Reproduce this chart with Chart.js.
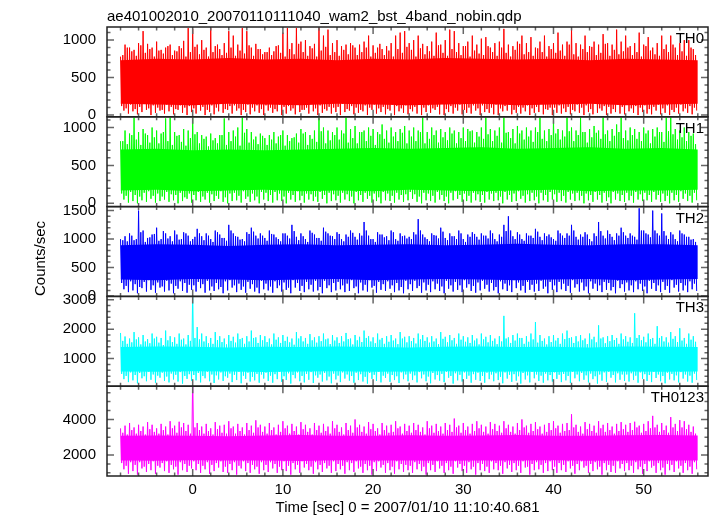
<!DOCTYPE html>
<html lang="en">
<head>
<meta charset="UTF-8">
<title>ae401002010 wam2 bst 4band light curve</title>
<script src="https://cdn.jsdelivr.net/npm/chart.js"></script>
<style>
  body { margin: 0; background: #fff; }
  #lc { display: block; }
</style>
</head>
<body>
<canvas id="lc" width="717" height="516"></canvas>
<script>
// time binning of the values (seconds)
const T0 = -8;
const BIN = 0.5;        // spike / dip bins
const CORE_STEP = 4;    // dense core band bins

const bands = ['TH0', 'TH1', 'TH2', 'TH3', 'TH0123'];
const colors = ['#ff0000', '#00ff00', '#0000ff', '#00ffff', '#ff00ff'];

// per 0.5 s bin: highest spike (hi), deepest dip (lo),
// and the secondary peak / dip (hi2, lo2)
const th0Hi = [
  780, 940, 900, 870, 960, 1120, 950, 900, 980, 870, 900, 940, 860, 920, 990, 1160,
  1150, 940, 1000, 900, 1160, 920, 880, 960, 1120, 1060, 940, 1160, 1120, 900, 950, 880,
  840, 900, 850, 930, 1100, 1160, 960, 1160, 980, 1000, 920, 950, 1160, 1060, 1140, 960,
  1000, 920, 940, 960, 900, 940, 980, 1060, 930, 900, 880, 920, 960, 1060, 1100, 1120,
  960, 1000, 1060, 950, 920, 980, 1100, 940, 1000, 1140, 1120, 960, 920, 980, 1060, 940,
  1020, 1040, 900, 960, 980, 1150, 940, 920, 980, 1060, 960, 1040, 900, 980, 1060, 920,
  960, 1100, 940, 980, 1170, 960, 940, 1060, 920, 980, 940, 1080, 960, 940, 1140, 980,
  1060, 920, 960, 1100, 940, 1040, 900, 960, 1060, 940, 1060, 900, 960, 1000, 1000, 880
];
const th0Lo = [
  60, 20, 50, 10, 40, 70, 0, 30, 60, 20, 50, 10, 70, 30, 0, 40,
  20, 60, 0, 40, 10, 50, 30, 70, 20, 60, 0, 40, 10, 50, 30, 0,
  60, 30, 50, 0, 20, 60, 10, 40, 70, 20, 50, 0, 30, 60, 20, 40,
  0, 40, 60, 10, 30, 50, 0, 70, 20, 40, 10, 60, 0, 50, 30, 10,
  50, 20, 0, 40, 30, 70, 10, 0, 40, 20, 60, 10, 30, 20, 60, 0,
  40, 30, 10, 0, 50, 60, 10, 30, 20, 50, 0, 30, 40, 10, 70, 0,
  30, 20, 40, 10, 50, 30, 0, 40, 10, 30, 60, 0, 20, 40, 20, 10,
  50, 30, 0, 40, 20, 10, 60, 10, 30, 0, 40, 20, 50, 30, 10, 60
];
const th0Hi2 = [
  800, 900, 850, 790, 930, 830, 880, 780, 860, 820, 920, 800, 850, 890, 780, 840,
  910, 810, 870, 780, 840, 940, 800, 830, 900, 790, 860, 820, 930, 790, 880, 810,
  840, 800, 920, 830, 780, 880, 810, 950, 840, 790, 890, 780, 860, 910, 800, 840,
  790, 870, 810, 930, 800, 840, 900, 780, 830, 950, 800, 860, 780, 880, 830, 910,
  870, 780, 890, 810, 850, 790, 930, 830, 790, 880, 840, 800, 920, 780, 860, 820,
  800, 920, 840, 790, 900, 830, 780, 870, 950, 810, 840, 790, 890, 840, 780, 880,
  830, 860, 790, 940, 810, 780, 880, 840, 910, 800, 830, 950, 790, 870, 810, 850,
  900, 800, 840, 780, 920, 860, 810, 790, 880, 840, 940, 800, 850, 790, 900, 800
];
const th0Lo2 = [
  120, 90, 140, 80, 110, 150, 90, 130, 100, 70, 140, 110, 80, 130, 100, 120,
  90, 140, 110, 70, 130, 100, 150, 80, 120, 130, 90, 70, 140, 100, 130, 80,
  130, 100, 80, 140, 110, 120, 90, 140, 70, 100, 150, 90, 130, 80, 110, 100,
  110, 150, 80, 120, 100, 70, 130, 100, 140, 90, 110, 80, 140, 120, 90, 130,
  80, 110, 140, 100, 130, 90, 110, 150, 80, 120, 100, 140, 70, 100, 130, 90,
  130, 80, 100, 140, 90, 120, 140, 70, 110, 100, 130, 90, 110, 150, 80, 100,
  100, 130, 90, 110, 70, 140, 100, 130, 80, 150, 90, 120, 110, 80, 140, 110,
  140, 90, 120, 100, 130, 80, 110, 140, 90, 130, 70, 100, 140, 90, 120, 100
];
const th1Hi = [
  820, 960, 920, 1130, 940, 980, 900, 1000, 960, 920, 1120, 1130, 940, 900, 980, 960,
  1130, 940, 900, 880, 920, 860, 900, 1120, 940, 960, 1000, 1130, 980, 940, 880, 920,
  860, 900, 940, 880, 960, 900, 860, 920, 980, 940, 900, 960, 1130, 1000, 960, 940,
  1000, 960, 1130, 980, 1020, 940, 960, 1000, 980, 940, 1040, 960, 1000, 940, 980, 1020,
  960, 1000, 960, 1130, 940, 1000, 960, 980, 940, 1000, 960, 940, 1000, 980, 960, 940,
  1000, 1130, 980, 960, 1000, 1130, 940, 980, 1020, 960, 1000, 960, 1000, 1130, 960, 980,
  1130, 980, 960, 1130, 1000, 960, 1130, 940, 980, 1020, 960, 1130, 960, 980, 1040, 1130,
  960, 1000, 980, 940, 1000, 960, 980, 1000, 940, 1130, 1130, 980, 960, 1000, 940, 920
];
const th1Lo = [
  50, 10, 30, 0, 40, 20, 60, 10, 30, 50, 20, 40, 0, 30, 60, 10,
  40, 20, 50, 10, 30, 60, 20, 0, 30, 40, 10, 60, 20, 40, 0, 50,
  30, 10, 40, 30, 0, 50, 20, 40, 10, 50, 30, 20, 60, 0, 30, 40,
  10, 50, 30, 0, 40, 20, 60, 10, 30, 0, 40, 30, 10, 50, 20, 40,
  60, 20, 0, 40, 30, 10, 50, 30, 0, 40, 60, 20, 30, 10, 40, 20,
  10, 50, 30, 40, 0, 50, 20, 30, 60, 10, 30, 40, 0, 40, 20, 50,
  20, 30, 10, 50, 30, 40, 0, 40, 20, 50, 10, 30, 0, 50, 30, 20,
  40, 10, 50, 30, 40, 20, 50, 20, 30, 0, 40, 20, 60, 30, 10, 40
];
const th1Hi2 = [
  820, 780, 900, 840, 770, 920, 800, 870, 790, 940, 820, 770, 890, 810, 760, 860,
  910, 790, 850, 750, 830, 790, 900, 770, 820, 880, 760, 930, 800, 840, 780, 890,
  770, 840, 790, 900, 760, 820, 870, 800, 920, 770, 850, 810, 950, 790, 830, 900,
  840, 920, 800, 860, 790, 940, 820, 890, 770, 910, 850, 800, 880, 820, 930, 790,
  880, 820, 940, 790, 850, 900, 800, 870, 830, 920, 790, 860, 820, 950, 800, 880,
  850, 910, 820, 890, 800, 930, 860, 790, 920, 840, 880, 810, 940, 850, 820, 900,
  920, 840, 880, 950, 820, 900, 940, 800, 870, 930, 850, 910, 820, 890, 940, 860,
  830, 900, 850, 820, 920, 790, 880, 940, 810, 950, 910, 840, 870, 820, 890, 780
];
const th1Lo2 = [
  130, 100, 150, 110, 90, 140, 160, 100, 130, 90, 150, 120, 110, 140, 80, 130,
  110, 150, 90, 140, 120, 100, 160, 80, 130, 140, 100, 160, 90, 130, 90, 150,
  140, 110, 150, 130, 90, 140, 110, 160, 100, 130, 120, 90, 150, 110, 140, 120,
  100, 140, 120, 90, 150, 110, 140, 100, 130, 80, 150, 130, 100, 140, 110, 120,
  150, 120, 90, 140, 130, 100, 150, 110, 90, 140, 160, 110, 130, 100, 140, 120,
  110, 150, 130, 140, 90, 150, 110, 130, 160, 100, 120, 140, 90, 140, 110, 150,
  120, 140, 100, 150, 130, 140, 100, 130, 110, 150, 110, 140, 80, 150, 130, 110,
  140, 100, 150, 120, 140, 110, 150, 110, 130, 100, 140, 110, 160, 130, 100, 140
];
const th2Hi = [
  1000, 1050, 1100, 980, 1500, 1150, 1020, 1080, 1200, 1000, 1100, 1050, 1150, 990, 1120, 1060,
  1000, 1180, 1050, 1100, 1000, 1150, 1080, 1020, 1250, 1100, 1040, 1000, 1120, 1200, 1060, 1100,
  1020, 1150, 1080, 1000, 1100, 1060, 1250, 1040, 1100, 1000, 1150, 1080, 1020, 1200, 1100, 1050,
  1120, 1000, 1080, 1150, 1040, 1100, 1300, 1060, 1000, 1120, 1080, 1050, 1150, 1000, 1100, 1060,
  1040, 1120, 1350, 1080, 1000, 1100, 1060, 1200, 1020, 1100, 1050, 1150, 1000, 1080, 1120, 1040,
  1100, 1060, 1150, 1000, 1080, 1250, 1400, 1050, 1120, 1000, 1100, 1060, 1180, 1040, 1100, 1080,
  1000, 1150, 1060, 1100, 1250, 1040, 1080, 1120, 1000, 1100, 1300, 1060, 1150, 1040, 1100, 1200,
  1060, 1100, 1040, 1540, 1150, 1080, 1500, 1100, 1450, 1060, 1120, 1000, 1150, 1080, 1040, 1000
];
const th2Lo = [
  120, 70, 100, 50, 140, 80, 110, 60, 150, 80, 100, 50, 130, 90, 60, 110,
  80, 140, 60, 100, 90, 120, 50, 100, 150, 70, 110, 60, 130, 80, 50, 120,
  100, 60, 140, 80, 110, 50, 150, 90, 70, 120, 80, 100, 50, 140, 70, 100,
  120, 70, 90, 140, 50, 100, 80, 150, 60, 110, 90, 130, 70, 100, 50, 120,
  90, 140, 60, 100, 70, 120, 90, 50, 130, 80, 110, 70, 150, 90, 60, 100,
  130, 80, 100, 50, 120, 90, 70, 140, 100, 60, 110, 80, 90, 130, 50, 110,
  70, 120, 90, 60, 150, 80, 100, 50, 130, 90, 70, 110, 100, 50, 140, 80,
  100, 70, 120, 90, 50, 130, 90, 70, 110, 60, 150, 80, 100, 70, 120, 90
];
const th2Hi2 = [
  980, 960, 1060, 1000, 1120, 950, 1030, 1090, 970, 1140, 1010, 960, 1080, 1000, 1100, 960,
  1040, 1100, 980, 1060, 950, 1120, 1020, 970, 1150, 1050, 990, 960, 1090, 1130, 1010, 1060,
  970, 1090, 1030, 960, 1100, 1010, 1140, 980, 1050, 950, 1110, 1020, 970, 1130, 1060, 1000,
  1090, 960, 1040, 1110, 990, 1060, 1150, 1000, 950, 1080, 1030, 980, 1120, 970, 1050, 1010,
  1000, 1080, 1150, 1030, 960, 1070, 1010, 1130, 980, 1050, 1000, 1100, 950, 1040, 1090, 990,
  1060, 1010, 1100, 960, 1040, 1140, 1150, 1000, 1080, 970, 1060, 1020, 1130, 980, 1050, 1030,
  970, 1100, 1020, 1060, 1150, 990, 1040, 1080, 960, 1050, 1140, 1010, 1090, 980, 1060, 1120,
  1020, 1060, 990, 1150, 1100, 1030, 1150, 1060, 1140, 1000, 1080, 960, 1100, 1040, 990, 950
];
const th2Lo2 = [
  230, 180, 260, 210, 160, 250, 280, 190, 240, 170, 270, 220, 180, 260, 230, 200,
  190, 250, 210, 270, 170, 230, 160, 260, 280, 190, 220, 170, 250, 210, 150, 270,
  220, 170, 260, 190, 240, 150, 280, 230, 180, 250, 200, 270, 160, 270, 190, 230,
  250, 190, 220, 280, 170, 240, 200, 280, 180, 250, 210, 260, 190, 230, 160, 270,
  210, 270, 180, 240, 200, 260, 220, 170, 270, 190, 250, 190, 280, 210, 180, 240,
  270, 200, 230, 160, 260, 220, 190, 280, 240, 180, 250, 200, 220, 270, 170, 250,
  190, 250, 220, 180, 280, 210, 240, 170, 260, 220, 190, 250, 230, 160, 270, 210,
  240, 190, 260, 220, 170, 270, 230, 190, 250, 180, 280, 200, 230, 190, 260, 220
];
const th3Hi = [
  1870, 1750, 1680, 1900, 1720, 1800, 1660, 1850, 1740, 1700, 1950, 1760, 1720, 1850, 1680, 1800,
  3300, 2070, 1850, 1760, 1700, 1900, 1760, 1680, 1800, 1740, 1850, 1700, 1760, 1950, 1720, 1800,
  1760, 1680, 1850, 1720, 1800, 1740, 1680, 1900, 1760, 1700, 1830, 1720, 1760, 1850, 1680, 1800,
  1720, 1760, 1870, 1680, 1800, 1740, 1950, 1760, 1720, 1850, 1700, 1760, 1800, 1680, 1900, 1740,
  1760, 1700, 1850, 1800, 1720, 1760, 1680, 1900, 1740, 1800, 1700, 1850, 1760, 1720, 1800, 1680,
  1850, 1740, 1800, 1680, 1760, 2450, 1720, 1800, 1850, 1700, 1760, 1850, 2240, 1800, 1680, 1760,
  1800, 1700, 1850, 1950, 1720, 1760, 1800, 1680, 1850, 1740, 2130, 1720, 1760, 1800, 1700, 1850,
  1760, 1720, 2540, 1800, 1740, 1850, 1700, 2100, 1760, 1720, 1900, 1760, 2030, 1700, 1850, 1760
];
const th3Lo = [
  300, 200, 260, 160, 330, 230, 280, 180, 350, 240, 190, 290, 220, 150, 310, 250,
  260, 190, 330, 230, 170, 290, 240, 350, 200, 270, 160, 310, 220, 260, 180, 320,
  240, 180, 300, 210, 270, 150, 330, 230, 190, 280, 170, 350, 220, 260, 160, 290,
  200, 320, 250, 180, 270, 220, 150, 310, 240, 190, 340, 210, 270, 170, 300, 230,
  270, 190, 330, 230, 160, 290, 250, 200, 350, 150, 260, 220, 310, 180, 280, 240,
  180, 300, 230, 270, 160, 320, 210, 250, 150, 290, 190, 330, 240, 180, 260, 220,
  310, 200, 260, 170, 330, 230, 280, 190, 300, 150, 250, 210, 350, 190, 280, 240,
  220, 270, 180, 310, 240, 200, 340, 230, 160, 290, 260, 190, 320, 220, 180, 270
];
const th3Hi2 = [
  1600, 1500, 1550, 1650, 1480, 1580, 1520, 1680, 1540, 1460, 1620, 1560, 1500, 1640, 1480, 1600,
  1700, 1650, 1580, 1520, 1500, 1630, 1560, 1480, 1600, 1540, 1660, 1500, 1580, 1700, 1530, 1620,
  1560, 1480, 1640, 1530, 1600, 1550, 1470, 1680, 1580, 1500, 1620, 1540, 1590, 1650, 1490, 1610,
  1530, 1580, 1660, 1480, 1620, 1560, 1700, 1580, 1520, 1640, 1500, 1570, 1610, 1490, 1680, 1550,
  1590, 1510, 1650, 1600, 1540, 1580, 1490, 1670, 1550, 1620, 1500, 1640, 1570, 1530, 1610, 1480,
  1650, 1550, 1600, 1490, 1580, 1680, 1530, 1610, 1700, 1500, 1570, 1650, 1540, 1600, 1480, 1560,
  1610, 1500, 1660, 1700, 1530, 1580, 1620, 1490, 1650, 1550, 1680, 1520, 1590, 1630, 1500, 1650,
  1570, 1530, 1700, 1620, 1550, 1660, 1500, 1700, 1580, 1540, 1670, 1560, 1610, 1500, 1640, 1570
];
const th3Lo2 = [
  480, 410, 530, 440, 510, 400, 550, 460, 420, 520, 390, 490, 450, 540, 410, 470,
  440, 510, 410, 550, 460, 430, 530, 400, 490, 450, 550, 420, 520, 380, 480, 460,
  520, 420, 470, 550, 400, 500, 440, 530, 410, 480, 540, 430, 460, 510, 390, 490,
  420, 530, 460, 410, 520, 470, 380, 510, 450, 550, 420, 490, 440, 400, 530, 460,
  490, 430, 540, 460, 390, 510, 440, 480, 550, 410, 500, 450, 530, 420, 470, 520,
  410, 520, 460, 500, 380, 530, 450, 470, 400, 510, 430, 550, 460, 420, 490, 440,
  530, 450, 480, 410, 550, 460, 510, 430, 490, 400, 460, 530, 550, 440, 500, 460,
  460, 500, 420, 530, 470, 440, 550, 460, 410, 520, 480, 430, 540, 460, 420, 490
];
const th0123Hi = [
  3500, 3650, 3800, 3550, 3700, 3600, 3850, 3700, 3500, 3750, 3600, 3900, 3650, 3870, 3800, 3700,
  6500, 3800, 3600, 3750, 3500, 3850, 3650, 3700, 3900, 3600, 3750, 3550, 3800, 3650, 3950, 3700,
  3600, 3800, 3550, 3700, 3900, 3650, 3750, 3600, 3850, 3700, 3500, 3800, 3650, 3750, 3600, 3900,
  3700, 3550, 3800, 3650, 4000, 3700, 3600, 3850, 3750, 3500, 3800, 3650, 3700, 3900, 3600, 3750,
  3650, 3800, 3700, 3550, 3900, 3650, 3750, 3600, 3800, 3700, 4050, 3650, 3800, 3600, 3750, 3900,
  3700, 3600, 3850, 3750, 3650, 3900, 3700, 3600, 3800, 4000, 3650, 3750, 3850, 3600, 3700, 3800,
  3900, 3650, 3750, 3800, 4290, 3700, 3600, 3850, 3750, 3650, 3900, 3700, 3800, 3600, 3750, 3850,
  3700, 3800, 3870, 3650, 3750, 3900, 4200, 3700, 3800, 3650, 4130, 3750, 3960, 3900, 3700, 3600
];
const th0123Lo = [
  1200, 950, 1100, 900, 1250, 1050, 1150, 950, 1300, 1100, 1000, 1200, 900, 1150, 1050, 1250,
  1150, 1000, 1200, 950, 1100, 1300, 1050, 1000, 1150, 900, 1250, 1100, 1000, 1200, 950, 1150,
  1050, 1250, 1000, 1150, 1100, 900, 1200, 1000, 1300, 1150, 950, 1200, 1050, 1250, 1000, 1100,
  1200, 950, 1150, 1050, 1250, 1000, 1150, 900, 1100, 1300, 1000, 1150, 950, 1200, 1050, 1150,
  1000, 1200, 1100, 900, 1150, 1050, 1250, 1000, 1150, 950, 1300, 1100, 1000, 1200, 900, 1150,
  1100, 1000, 1200, 1150, 950, 1250, 1050, 1150, 1000, 1300, 900, 1150, 1200, 1000, 1100, 1150,
  1000, 1150, 1050, 1250, 950, 1150, 1300, 1000, 1100, 1200, 900, 1150, 1050, 1000, 1250, 1100,
  1150, 1000, 1200, 950, 1100, 1300, 1000, 1150, 900, 1150, 1050, 1250, 1000, 1150, 950, 1200
];
const th0123Hi2 = [
  3250, 3150, 3400, 3200, 3350, 3150, 3450, 3300, 3200, 3400, 3150, 3500, 3250, 3550, 3350, 3200,
  3550, 3400, 3200, 3350, 3150, 3450, 3250, 3200, 3500, 3200, 3350, 3150, 3400, 3250, 3550, 3300,
  3200, 3400, 3150, 3300, 3500, 3200, 3350, 3150, 3450, 3300, 3150, 3400, 3250, 3350, 3200, 3500,
  3300, 3150, 3400, 3250, 3550, 3300, 3200, 3450, 3350, 3150, 3400, 3250, 3300, 3500, 3200, 3350,
  3250, 3400, 3300, 3150, 3500, 3250, 3350, 3200, 3400, 3300, 3550, 3250, 3400, 3200, 3350, 3500,
  3300, 3200, 3450, 3350, 3250, 3500, 3300, 3200, 3400, 3550, 3250, 3350, 3450, 3200, 3300, 3400,
  3500, 3250, 3350, 3400, 3550, 3300, 3200, 3450, 3350, 3250, 3500, 3300, 3400, 3200, 3350, 3450,
  3300, 3400, 3550, 3250, 3350, 3500, 3550, 3300, 3400, 3250, 3550, 3350, 3550, 3450, 3300, 3200
];
const th0123Lo2 = [
  1550, 1400, 1600, 1450, 1600, 1350, 1500, 1650, 1400, 1550, 1650, 1450, 1350, 1600, 1500, 1400,
  1650, 1500, 1400, 1600, 1450, 1550, 1650, 1350, 1500, 1600, 1400, 1650, 1550, 1450, 1350, 1600,
  1450, 1600, 1500, 1350, 1650, 1400, 1550, 1450, 1650, 1500, 1350, 1600, 1450, 1550, 1400, 1650,
  1500, 1400, 1600, 1550, 1650, 1350, 1500, 1400, 1600, 1650, 1450, 1550, 1350, 1650, 1500, 1450,
  1400, 1600, 1500, 1350, 1550, 1450, 1650, 1400, 1550, 1350, 1650, 1500, 1400, 1600, 1350, 1550,
  1500, 1350, 1650, 1550, 1400, 1600, 1450, 1550, 1400, 1650, 1350, 1500, 1600, 1450, 1550, 1650,
  1350, 1550, 1450, 1650, 1400, 1500, 1650, 1400, 1500, 1600, 1350, 1550, 1450, 1400, 1650, 1500,
  1550, 1400, 1600, 1350, 1500, 1650, 1400, 1550, 1300, 1500, 1450, 1650, 1400, 1550, 1350, 1600
];

// per 4 s bin: edges of the solid (fully overlapped) part of each curve
const th0CoreTop = [730, 750, 740, 760, 740, 750, 730, 750, 740, 760, 750, 740, 750, 730, 750, 740, 730];
const th0CoreBot = [150, 140, 130, 150, 140, 130, 150, 140, 130, 140, 150, 130, 140, 150, 130, 140, 150];
const th1CoreTop = [710, 720, 700, 710, 700, 710, 720, 730, 720, 730, 740, 720, 730, 740, 720, 730, 710];
const th1CoreBot = [170, 180, 160, 170, 180, 160, 170, 160, 180, 170, 160, 170, 180, 160, 170, 170, 180];
const th2CoreTop = [890, 910, 900, 880, 900, 910, 890, 900, 910, 890, 900, 920, 900, 890, 910, 910, 890];
const th2CoreBot = [290, 280, 300, 290, 280, 290, 300, 280, 290, 300, 290, 280, 290, 300, 280, 290, 300];
const th3CoreTop = [1390, 1410, 1400, 1380, 1400, 1390, 1410, 1390, 1380, 1400, 1410, 1390, 1400, 1380, 1410, 1400, 1390];
const th3CoreBot = [560, 550, 570, 560, 540, 560, 570, 550, 560, 570, 550, 560, 540, 570, 560, 550, 560];
const th0123CoreTop = [3080, 3100, 3080, 3060, 3100, 3120, 3080, 3090, 3110, 3080, 3100, 3120, 3090, 3080, 3110, 3120, 3100];
const th0123CoreBot = [1700, 1680, 1710, 1690, 1700, 1670, 1710, 1690, 1700, 1680, 1700, 1690, 1710, 1680, 1700, 1690, 1700];

const hiSeries = [th0Hi, th1Hi, th2Hi, th3Hi, th0123Hi];
const loSeries = [th0Lo, th1Lo, th2Lo, th3Lo, th0123Lo];
const hi2Series = [th0Hi2, th1Hi2, th2Hi2, th3Hi2, th0123Hi2];
const lo2Series = [th0Lo2, th1Lo2, th2Lo2, th3Lo2, th0123Lo2];
const coreTop = [th0CoreTop, th1CoreTop, th2CoreTop, th3CoreTop, th0123CoreTop];
const coreBot = [th0CoreBot, th1CoreBot, th2CoreBot, th3CoreBot, th0123CoreBot];

// axes
const xTicks = [0, 10, 20, 30, 40, 50];
const yTicks = [[0, 500, 1000], [0, 500, 1000], [0, 500, 1000, 1500], [1000, 2000, 3000], [2000, 4000]];
const yMinorStep = [100, 100, 100, 200, 500];
const yMin = [-23, -43, -5, 61, 824];
const yMax = [1175, 1141, 1570, 3112, 5866];

const TITLE = 'ae401002010_20070110111040_wam2_bst_4band_nobin.qdp';
const XLABEL = 'Time [sec] 0 = 2007/01/10 11:10:40.681';
const YLABEL = 'Counts/sec';
const FONT = "'Liberation Sans', Arial, Helvetica, sans-serif";

// four points per bin: spike, inner dip, inner peak, deepest dip
function curve(p) {
  const hi = hiSeries[p], lo = loSeries[p], hi2 = hi2Series[p], lo2 = lo2Series[p];
  const pts = [];
  for (let i = 0; i < hi.length; i++) {
    const t = T0 + i * BIN;
    pts.push({x: t, y: hi[i]});
    pts.push({x: t + BIN / 4, y: lo2[i]});
    pts.push({x: t + BIN / 2, y: hi2[i]});
    pts.push({x: t + 3 * BIN / 4, y: lo[i]});
  }
  return pts;
}

function coreLine(vals) {
  return vals.map((y, i) => ({x: T0 + i * CORE_STEP, y: y}));
}

const datasets = [];
bands.forEach((b, p) => {
  const axis = 'y' + p;
  datasets.push({
    label: b, data: curve(p), yAxisID: axis,
    borderColor: colors[p], borderWidth: 1, borderJoinStyle: 'bevel',
    pointRadius: 0, tension: 0, fill: false
  });
  datasets.push({
    label: b + ' core top', data: coreLine(coreTop[p]), yAxisID: axis,
    borderWidth: 0, pointRadius: 0, fill: false
  });
  datasets.push({
    label: b + ' core', data: coreLine(coreBot[p]), yAxisID: axis,
    borderWidth: 0, pointRadius: 0, fill: '-1', backgroundColor: colors[p]
  });
});

const scales = {
  x: {
    type: 'linear', position: 'bottom', min: -9.5, max: 57.13,
    grid: {display: false, drawTicks: false}, border: {display: false},
    ticks: {color: '#000', font: {family: FONT, size: 15}, padding: 5, maxRotation: 0, autoSkip: false},
    afterBuildTicks: s => { s.ticks = xTicks.map(v => ({value: v})); },
    afterFit: s => { s.height = 40; }
  }
};
bands.forEach((b, p) => {
  scales['y' + p] = {
    type: 'linear', position: 'left', stack: 'lc', stackWeight: 1, weight: bands.length - p,
    min: yMin[p], max: yMax[p], offset: false,
    grid: {display: false, drawTicks: false}, border: {display: false},
    ticks: {color: '#000', font: {family: FONT, size: 15}, padding: 11, autoSkip: false,
            callback: v => String(v)},
    afterBuildTicks: s => { s.ticks = yTicks[p].map(v => ({value: v})); },
    afterFit: s => { s.width = 107; }
  };
});

// qdp style frame: clip each curve to its own panel, inward ticks, labels
const qdpFrame = {
  id: 'qdpFrame',
  beforeDatasetDraw(chart, args) {
    const ys = chart.scales[chart.data.datasets[args.index].yAxisID];
    const a = chart.chartArea;
    const ctx = chart.ctx;
    ctx.save();
    ctx.beginPath();
    ctx.rect(a.left, ys.top, a.right - a.left, ys.bottom - ys.top);
    ctx.clip();
  },
  afterDatasetDraw(chart) {
    chart.ctx.restore();
  },
  afterDatasetsDraw(chart) {
    const ctx = chart.ctx;
    const a = chart.chartArea;
    const xs = chart.scales.x;
    ctx.save();
    bands.forEach((b, p) => {
      const ys = chart.scales['y' + p];
      ctx.strokeStyle = '#666';
      ctx.lineWidth = 1.5;
      ctx.beginPath();
      for (let t = Math.ceil(xs.min / 2) * 2; t <= xs.max; t += 2) {
        const px = xs.getPixelForValue(t);
        const len = t % 10 === 0 ? 7 : 3.5;
        ctx.moveTo(px, ys.top); ctx.lineTo(px, ys.top + len);
        ctx.moveTo(px, ys.bottom); ctx.lineTo(px, ys.bottom - len);
      }
      const step = yMinorStep[p];
      for (let v = Math.ceil(ys.min / step) * step; v <= ys.max; v += step) {
        const py = ys.getPixelForValue(v);
        const len = yTicks[p].includes(v) ? 7 : 3.5;
        ctx.moveTo(a.left, py); ctx.lineTo(a.left + len, py);
        ctx.moveTo(a.right, py); ctx.lineTo(a.right - len, py);
      }
      ctx.stroke();
      ctx.strokeStyle = '#222';
      ctx.lineWidth = 1.5;
      ctx.strokeRect(a.left, ys.top, a.right - a.left, ys.bottom - ys.top);
    });
    ctx.restore();
  },
  afterDraw(chart) {
    const ctx = chart.ctx;
    const a = chart.chartArea;
    ctx.save();
    ctx.fillStyle = '#000';
    ctx.font = '15px ' + FONT;
    ctx.textBaseline = 'alphabetic';
    ctx.textAlign = 'left';
    ctx.fillText(TITLE, a.left, 21);
    ctx.textAlign = 'right';
    bands.forEach((b, p) => {
      ctx.fillText(b, a.right - 4, chart.scales['y' + p].top + 16);
    });
    ctx.textAlign = 'center';
    ctx.textBaseline = 'middle';
    ctx.fillText(XLABEL, (a.left + a.right) / 2, 508);
    ctx.translate(41, (a.top + a.bottom) / 2 + 7);
    ctx.rotate(-Math.PI / 2);
    ctx.fillText(YLABEL, 0, 0);
    ctx.restore();
  }
};

new Chart(document.getElementById('lc'), {
  type: 'line',
  data: {datasets: datasets},
  options: {
    responsive: false,
    animation: false,
    events: [],
    layout: {padding: {left: 0, top: 27, right: 9, bottom: 0}},
    plugins: {legend: {display: false}, tooltip: {enabled: false}, title: {display: false}},
    scales: scales
  },
  plugins: [qdpFrame]
});
</script>
</body>
</html>
